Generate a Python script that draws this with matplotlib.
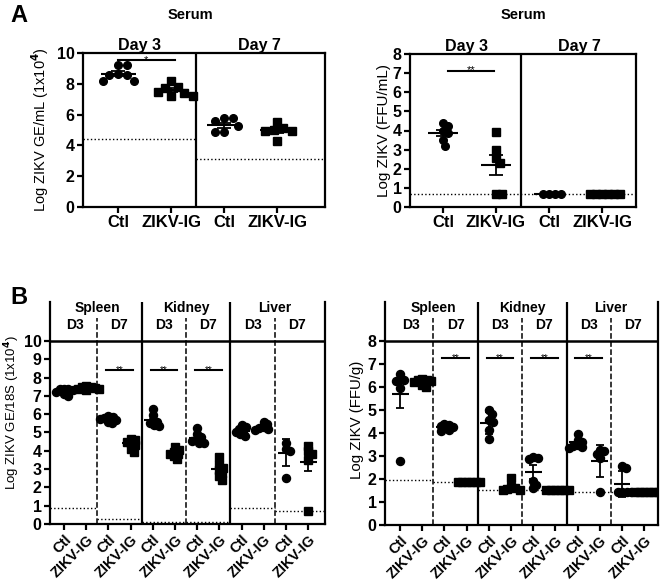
import numpy as np
import matplotlib
matplotlib.use("Agg")
import matplotlib.pyplot as plt

plt.rcParams["font.family"] = ["Liberation Sans", "DejaVu Sans"]
plt.rcParams["font.weight"] = "bold"

# ---- Panel A: serum ----
serum_groups = ["Ctl", "ZIKV-IG", "Ctl", "ZIKV-IG"]
serum_days = ["Day 3", "Day 7"]

ge_serum = [
    [9.25, 9.2, 8.65, 8.6, 8.6, 8.2, 8.15],
    [8.2, 7.8, 7.75, 7.45, 7.4, 7.2, 7.2],
    [5.75, 5.75, 5.6, 5.25, 4.85, 4.85],
    [5.55, 5.1, 5.0, 4.95, 4.95, 4.3],
]
ge_serum_mean = [8.66, 7.6, 5.3, 5.0]
ge_serum_err = [0.15, 0.15, 0.15, 0.17]
ge_serum_lod = [4.4, 3.1]

ffu_serum = [
    [4.4, 4.25, 4.0, 3.85, 3.5, 3.2],
    [3.9, 3.0, 2.55, 2.3, 0.7, 0.7],
    [0.7, 0.7, 0.7, 0.7],
    [0.7, 0.7, 0.7, 0.7, 0.7, 0.7],
]
ffu_serum_mean = [3.87, 2.2, 0.7, 0.7]
ffu_serum_err = [0.18, 0.52, 0.0, 0.0]
ffu_serum_lod = [0.7, 0.7]

# ---- Panel B: tissues ----
organs = ["Spleen", "Kidney", "Liver"]
days = ["D3", "D7"]
tissue_labels = ["Ctl", "ZIKV-IG"] * 6
tissue_markers = ["o", "s", "o", "s", "o", "s", "o", "s", "o", "o", "o", "s"]

ge_tissue = [
    [7.4, 7.35, 7.35, 7.3, 7.2, 7.1, 7.0],
    [7.55, 7.5, 7.5, 7.45, 7.4, 7.35, 7.3],
    [5.9, 5.85, 5.8, 5.75, 5.7, 5.6, 5.5],
    [4.65, 4.6, 4.5, 4.4, 4.3, 4.1, 3.95],
    [6.3, 5.95, 5.7, 5.6, 5.5, 5.4, 5.35],
    [4.2, 4.05, 3.95, 3.85, 3.8, 3.7, 3.55],
    [5.25, 4.9, 4.75, 4.65, 4.55, 4.45, 4.4],
    [3.65, 3.2, 3.05, 2.95, 2.8, 2.6, 2.4],
    [5.4, 5.3, 5.2, 5.1, 5.0, 4.9, 4.8],
    [5.6, 5.45, 5.3, 5.25, 5.2, 5.15],
    [4.4, 4.1, 4.0, 2.5],
    [4.25, 4.0, 3.85, 3.5, 0.7],
]
ge_tissue_mean = [7.25, 7.45, 5.7, 4.4, 5.68, 3.9, 4.72, 2.98, 5.1, 5.3, 3.9, 3.38]
ge_tissue_err = [0.06, 0.04, 0.06, 0.1, 0.3, 0.1, 0.22, 0.25, 0.08, 0.08, 0.72, 0.5]
ge_tissue_lod = [0.9, 0.3, 0.1, 0.1, 0.85, 0.72]

ffu_tissue = [
    [6.55, 6.35, 6.3, 6.25, 5.95, 2.8],
    [6.35, 6.3, 6.3, 6.25, 6.2, 6.1, 6.0],
    [4.4, 4.35, 4.3, 4.25, 4.2, 4.15, 4.1],
    [1.85, 1.85, 1.85, 1.85, 1.85, 1.85],
    [5.0, 4.85, 4.55, 4.5, 4.15, 3.75],
    [2.05, 1.65, 1.6, 1.55, 1.53, 1.53],
    [2.95, 2.9, 2.85, 1.9, 1.75, 1.6],
    [1.53, 1.53, 1.53, 1.53, 1.53, 1.53],
    [3.95, 3.7, 3.6, 3.5, 3.45, 3.4, 3.35],
    [3.25, 3.2, 3.1, 2.9, 1.45],
    [2.55, 2.5, 1.42, 1.42, 1.42, 1.42],
    [1.42, 1.42, 1.42, 1.42, 1.42, 1.42],
]
ffu_tissue_mean = [5.7, 6.22, 4.25, 1.85, 4.45, 1.65, 2.3, 1.53, 3.6, 2.8, 1.78, 1.42]
ffu_tissue_err = [0.6, 0.05, 0.04, 0.0, 0.48, 0.18, 0.3, 0.0, 0.1, 0.7, 0.58, 0.0]
ffu_tissue_lod = [1.95, 1.85, 1.53, 1.53, 1.42, 1.42]

W, H = 661, 581
fig = plt.figure(figsize=(W / 100, H / 100), dpi=100)


def px_axes(left, top, right, bottom):
    return fig.add_axes([left / W, 1 - bottom / H, (right - left) / W, (bottom - top) / H])


def swarm(ax, x0, vals, d_px):
    # simple beeswarm: spread points sideways so they don't overlap
    tr = ax.transData
    ys = tr.transform(np.column_stack([np.full(len(vals), x0), vals]))[:, 1]
    unit = tr.transform([[1, 0]])[0, 0] - tr.transform([[0, 0]])[0, 0]
    placed = []
    xs = []
    for y in ys:
        cands = [0.0]
        for xo, yo in placed:
            dy = abs(y - yo)
            if dy < d_px:
                dx = np.sqrt(d_px ** 2 - dy ** 2)
                cands += [xo + dx, xo - dx]
        cands.sort(key=abs)
        for c in cands:
            if all((c - xo) ** 2 + (y - yo) ** 2 >= d_px ** 2 - 1e-6 for xo, yo in placed):
                break
        placed.append((c, y))
        xs.append(x0 + c / unit)
    return np.array(xs)


def style_axes(ax, lw=1.6):
    for s in ax.spines.values():
        s.set_linewidth(lw)
    ax.tick_params(direction="out", length=4, width=lw, pad=2)


def draw_groups(ax, data, means, errs, markers, ms, d_px, half, cap):
    for i, vals in enumerate(data):
        xs = swarm(ax, i, vals, d_px)
        ax.plot(xs, vals, linestyle="none", marker=markers[i], ms=ms, color="black", zorder=2)
        ax.hlines(means[i], i - half, i + half, color="black", lw=1.5, zorder=3)
        if errs[i] > 0:
            ax.errorbar(i, means[i], yerr=errs[i], fmt="none", ecolor="black",
                        elinewidth=1.3, capsize=cap, capthick=1.3, zorder=3)


def sig_bar(ax, x1, x2, y, text, fs):
    ax.plot([x1, x2], [y, y], color="black", lw=1.5)
    ax.annotate(text, ((x1 + x2) / 2, y), xytext=(0, -3.5), textcoords="offset points",
                ha="center", va="bottom", fontsize=fs, fontweight="normal")


# ---------- Panel A left ----------
ax = px_axes(83, 53, 325, 207)
ax.set_xlim(-0.66, 3.9)
ax.set_ylim(0, 10)
style_axes(ax)
draw_groups(ax, ge_serum, ge_serum_mean, ge_serum_err, ["o", "s", "o", "s"], 5.5, 9, 0.33, 5)
ax.axvline(1.47, color="black", lw=1.6)
ax.plot([-0.66, 1.47], [ge_serum_lod[0]] * 2, ls=":", color="black", lw=1)
ax.plot([1.47, 3.9], [ge_serum_lod[1]] * 2, ls=":", color="black", lw=1)
sig_bar(ax, 0.0, 1.07, 9.55, "*", 8)
ax.set_xticks(range(4))
ax.set_xticklabels(serum_groups, fontsize=12)
ax.set_yticks(range(0, 11, 2))
ax.tick_params(axis="y", labelsize=11.5)
ax.text(0.235, 1.0, serum_days[0], transform=ax.transAxes, ha="center", va="bottom", fontsize=11.5)
ax.text(0.73, 1.0, serum_days[1], transform=ax.transAxes, ha="center", va="bottom", fontsize=11.5)
ax.set_ylabel("Log ZIKV GE/mL (1x10$\\mathbf{^4}$)", fontsize=10.5)
ax.yaxis.set_label_coords(-0.132, 0.5)

# ---------- Panel A right ----------
ax = px_axes(410, 54, 636, 207)
ax.set_xlim(-0.62, 3.64)
ax.set_ylim(0, 8)
style_axes(ax)
draw_groups(ax, ffu_serum, ffu_serum_mean, ffu_serum_err, ["o", "s", "o", "s"], 5.5, 6, 0.28, 5)
ax.axvline(1.47, color="black", lw=1.6)
ax.axhline(ffu_serum_lod[0], ls=":", color="black", lw=1, zorder=1)
sig_bar(ax, 0.1, 0.97, 7.13, "**", 8)
ax.set_xticks(range(4))
ax.set_xticklabels(serum_groups, fontsize=12)
ax.set_yticks(range(0, 9))
ax.tick_params(axis="y", labelsize=11.5)
ax.text(0.25, 1.0, serum_days[0], transform=ax.transAxes, ha="center", va="bottom", fontsize=11.5)
ax.text(0.75, 1.0, serum_days[1], transform=ax.transAxes, ha="center", va="bottom", fontsize=11.5)
ax.set_ylabel("Log ZIKV (FFU/mL)", fontsize=11)
ax.yaxis.set_label_coords(-0.084, 0.5)

fig.text(190 / W, 1 - 15 / H, "Serum", ha="center", va="center", fontsize=10.5)
fig.text(523 / W, 1 - 15 / H, "Serum", ha="center", va="center", fontsize=10.5)


# ---------- Panel B ----------
def tissue_panel(box, xlim, ytop, yhead, data, means, errs, lods, sig_pos, sig_y,
                 ylabel, label_fs, label_xy, dash_top, organ_y, day_y):
    ax = px_axes(*box)
    ax.set_xlim(*xlim)
    ax.set_ylim(0, yhead)
    style_axes(ax)
    ax.spines["top"].set_visible(False)
    draw_groups(ax, data, means, errs, tissue_markers, 5.8, 4.5, 0.38, 3)
    ax.axhline(ytop, color="black", lw=1.8)
    for xv in [3.5, 7.5]:
        ax.axvline(xv, color="black", lw=1.6)
    for xv in [1.5, 5.5, 9.5]:
        ax.plot([xv, xv], [0, dash_top], ls="--", color="black", lw=1.1)
    edges = [xlim[0], 1.5, 3.5, 5.5, 7.5, 9.5, xlim[1]]
    for k, lod in enumerate(lods):
        ax.plot([edges[k], edges[k + 1]], [lod, lod], ls=":", color="black", lw=1)
    for p in sig_pos:
        sig_bar(ax, p - 0.1, p + 1.1, sig_y, "**", 7)
    for k, org in enumerate(organs):
        ax.text(4 * k + 1.5, organ_y, org, ha="center", va="center", fontsize=10)
        for j, dy in enumerate(days):
            ax.text(4 * k + 2 * j + 0.5, day_y, dy, ha="center", va="center", fontsize=10)
    ax.set_xticks(range(12))
    ax.set_xticklabels(tissue_labels, rotation=45, ha="right", rotation_mode="anchor", fontsize=10.5)
    ax.set_yticks(range(0, int(ytop) + 1))
    ax.tick_params(axis="y", labelsize=11.5)
    ax.set_ylabel(ylabel, fontsize=label_fs)
    ax.yaxis.set_label_coords(*label_xy)
    return ax


tissue_panel((50, 302, 325, 524), (-0.63, 11.76), 10, 12.13,
             ge_tissue, ge_tissue_mean, ge_tissue_err, ge_tissue_lod,
             [2, 4, 6], 8.4, "Log ZIKV GE/18S (1x10$\\mathbf{^4}$)", 9.5,
             (-0.102, 0.5), 11.26, 11.8, 10.87)

tissue_panel((385, 302, 658, 525), (-0.68, 11.62), 8, 9.7,
             ffu_tissue, ffu_tissue_mean, ffu_tissue_err, ffu_tissue_lod,
             [2, 4, 6, 8], 7.27, "Log ZIKV (FFU/g)", 10.8,
             (-0.077, 0.47), 9.0, 9.43, 8.7)

fig.text(10 / W, 1 - 15 / H, "A", ha="left", va="center", fontsize=17)
fig.text(10 / W, 1 - 297 / H, "B", ha="left", va="center", fontsize=17)

fig.savefig("out.png", dpi=100)
